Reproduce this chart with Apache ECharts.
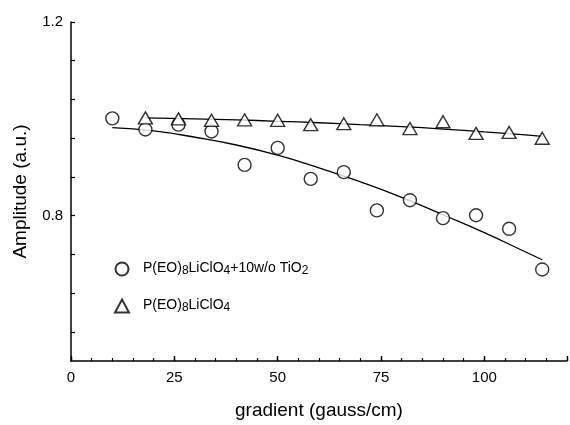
<!DOCTYPE html>
<html>
<head>
<meta charset="utf-8">
<script src="https://cdn.jsdelivr.net/npm/echarts@6/dist/echarts.min.js"></script>
<style>
html,body{margin:0;padding:0;background:#fff;}
#chart{width:570px;height:425px;}
</style>
</head>
<body>
<div id="chart"></div>
<script>
// gradient (gauss/cm)
const gradients = [10, 18, 26, 34, 42, 50, 58, 66, 74, 82, 90, 98, 106, 114];
// P(EO)8LiClO4 + 10 w/o TiO2 (circles)
const ampTiO2 = [1.001, 0.978, 0.988, 0.974, 0.905, 0.940, 0.876, 0.890, 0.811, 0.832, 0.795, 0.801, 0.773, 0.689];
// P(EO)8LiClO4 (triangles), from x = 18
const gradientsPure = [18, 26, 34, 42, 50, 58, 66, 74, 82, 90, 98, 106, 114];
const ampPure = [1.002, 1.000, 0.997, 0.998, 0.997, 0.988, 0.990, 0.998, 0.980, 0.994, 0.970, 0.972, 0.960];
// fitted curves
const fitX = [10, 20, 30, 40, 50, 60, 70, 80, 90, 100, 110, 114];
const fitTiO2 = [0.982, 0.975, 0.962, 0.946, 0.925, 0.899, 0.870, 0.838, 0.802, 0.765, 0.725, 0.709];
const fitXPure = [18, 30, 40, 50, 60, 70, 80, 90, 100, 110, 114];
const fitPure = [1.002, 1.000, 0.998, 0.995, 0.992, 0.988, 0.984, 0.979, 0.973, 0.967, 0.964];
// axis ticks and labels
const xLabelValues = [0, 25, 50, 75, 100];
const yTickValues = [0.56, 0.64, 0.72, 0.8, 0.88, 0.96, 1.04, 1.12, 1.2];
const yLabelValues = [0.8, 1.2];

const nameTiO2 = 'P(EO)8LiClO4+10w/o TiO2';
const namePure = 'P(EO)8LiClO4';

const zip = (xs, ys) => xs.map((x, i) => [x, ys[i]]);
const FONT = 'Liberation Sans, Arial, sans-serif';

const chart = echarts.init(document.getElementById('chart'), null, {renderer: 'canvas'});
const markerStyle = {color: '#fff', borderColor: '#000', borderWidth: 1.4};

chart.setOption({
  animation: false,
  backgroundColor: '#fff',
  textStyle: {fontFamily: FONT, color: '#000'},
  grid: {left: 71, top: 22, width: 502, height: 349, containLabel: false},
  legend: {
    orient: 'vertical',
    left: 114,
    top: 257,
    padding: 0,
    itemWidth: 14,
    itemHeight: 13,
    itemGap: 17,
    data: [nameTiO2, namePure],
    formatter: function (name) {
      if (name === nameTiO2) {
        return '{sp| }{n|P(EO)}{s|8}{n|LiClO}{s|4}{n|+10w/o TiO}{s|2}';
      }
      return '{sp| }{n|P(EO)}{s|8}{n|LiClO}{s|4}';
    },
    textStyle: {
      fontFamily: FONT,
      color: '#000',
      rich: {
        sp: {fontSize: 14, width: 9, lineHeight: 16},
        n: {fontSize: 14, fontFamily: FONT, color: '#000', lineHeight: 16, verticalAlign: 'top'},
        s: {fontSize: 12, fontFamily: FONT, color: '#000', lineHeight: 12, verticalAlign: 'bottom', padding: [8, 0, 0, 0]}
      }
    }
  },
  xAxis: [{
    type: 'value',
    min: 0, max: 120, interval: 5,
    name: 'gradient (gauss/cm)',
    nameLocation: 'middle',
    nameGap: 40,
    nameTextStyle: {fontSize: 19, fontFamily: FONT, color: '#000'},
    axisLine: {show: true, onZero: false, lineStyle: {color: '#000', width: 1.5}},
    axisTick: {show: true, inside: true, length: 3, lineStyle: {color: '#000', width: 1.2}},
    axisLabel: {show: true, fontSize: 15, margin: 9, color: '#000', fontFamily: FONT,
      formatter: v => (xLabelValues.indexOf(v) >= 0 ? String(v) : '')},
    splitLine: {show: false}
  }, {
    type: 'value',
    min: 0, max: 120, interval: 25,
    position: 'bottom',
    axisLine: {show: false},
    axisTick: {show: true, inside: true, length: 5, lineStyle: {color: '#000', width: 1.4}},
    axisLabel: {show: false},
    splitLine: {show: false}
  }],
  yAxis: {
    type: 'value',
    min: 0.5, max: 1.2,
    name: 'Amplitude (a.u.)',
    nameLocation: 'middle',
    nameGap: 41,
    nameTextStyle: {fontSize: 19, fontFamily: FONT, color: '#000'},
    axisLine: {show: true, onZero: false, lineStyle: {color: '#000', width: 1.5}},
    axisTick: {show: true, inside: true, length: 4, customValues: yTickValues, lineStyle: {color: '#000', width: 1.2}},
    axisLabel: {show: true, customValues: yLabelValues, fontSize: 15, margin: 8, color: '#000', fontFamily: FONT,
      formatter: v => v.toFixed(1)},
    splitLine: {show: false}
  },
  series: [
    {
      name: 'fit TiO2', type: 'line', data: zip(fitX, fitTiO2), smooth: true, symbol: 'none',
      lineStyle: {color: '#000', width: 1.3}, z: 1, silent: true
    },
    {
      name: 'fit pure', type: 'line', data: zip(fitXPure, fitPure), smooth: true, symbol: 'none',
      lineStyle: {color: '#000', width: 1.3}, z: 1, silent: true
    },
    {
      name: nameTiO2, type: 'scatter', data: zip(gradients, ampTiO2),
      symbol: 'circle', symbolSize: 13, itemStyle: markerStyle, z: 3
    },
    {
      name: namePure, type: 'scatter', data: zip(gradientsPure, ampPure),
      symbol: 'triangle', symbolSize: [14, 12], itemStyle: markerStyle, z: 3
    }
  ]
});
</script>
</body>
</html>
